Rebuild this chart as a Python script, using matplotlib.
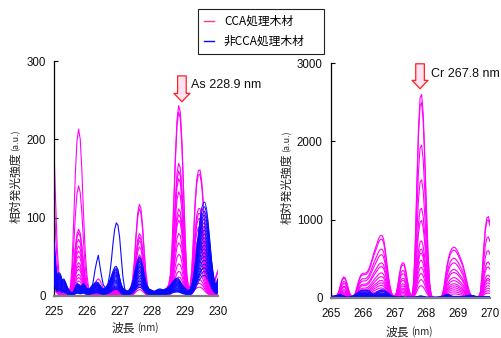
import numpy as np
import matplotlib
matplotlib.use("Agg")
import matplotlib.pyplot as plt
from matplotlib.lines import Line2D

plt.rcParams['font.family'] = ['Noto Sans CJK JP', 'DejaVu Sans']

# ---------------- data ----------------
# left panel: As region, sampled every 0.05 nm from 225.00 to 230.00
left_wl_start, left_wl_end = 225.0, 230.0
# CCA (magenta) component A: 225.0 edge, 225.76 peak, small bumps
left_cca_profile_a = [
    185, 120, 60, 28, 14, 10, 8, 5, 3, 4,
    12, 40, 95, 155, 198, 213, 200, 160, 105, 58,
    28, 12, 6, 8, 12, 16, 20, 22, 20, 15,
    10, 8, 10, 14, 18, 22, 26, 30, 30, 24,
    16, 10, 7, 6, 6, 7, 7, 7, 7, 7,
    7, 7, 7, 7, 7, 7, 7, 6, 6, 5,
    4, 3, 3, 3, 3, 3, 3, 3, 3, 3,
    3, 3, 3, 3, 3, 3, 3, 3, 3, 3,
    3, 3, 3, 3, 3, 3, 3, 3, 3, 3,
    3, 3, 3, 3, 3, 3, 3, 3, 3, 3,
    3]
# CCA (magenta) component B: 227.62, 228.83, 229.45 peaks
left_cca_profile_b = [
    0, 0, 0, 0, 0, 0, 0, 0, 0, 0,
    0, 0, 0, 0, 0, 0, 0, 0, 0, 0,
    0, 0, 0, 0, 0, 0, 0, 0, 0, 0,
    0, 0, 0, 0, 0, 0, 0, 0, 0, 0,
    0, 0, 0, 0, 0, 0, 1, 5, 15, 38,
    71, 98, 110, 105, 83, 51, 23, 8, 1, 0,
    0, 0, 1, 2, 3, 3, 4, 5, 6, 8,
    12, 25, 60, 115, 175, 222, 240, 232, 195, 135,
    70, 25, 8, 10, 30, 70, 115, 145, 157, 158,
    145, 118, 85, 55, 32, 18, 12, 12, 16, 24,
    30]
left_cca_scale_a = [1.00, 0.66, 0.40, 0.38, 0.34, 0.30, 0.27, 0.24,
                    0.20, 0.18, 0.16, 0.13, 0.11, 0.09, 0.07, 0.05]
left_cca_scale_b = [1.00, 0.97, 0.70, 0.66, 0.62, 0.55, 0.46, 0.43,
                    0.40, 0.33, 0.28, 0.22, 0.17, 0.13, 0.10, 0.07]

# non-CCA (blue) general profile
left_non_profile = [
    70, 40, 25, 30, 28, 20, 22, 18, 12, 8,
    5, 4, 6, 12, 16, 15, 12, 14, 16, 13,
    10, 9, 10, 13, 15, 17, 18, 17, 14, 11,
    9, 10, 12, 15, 20, 26, 32, 37, 38, 34,
    24, 15, 10, 8, 7, 6, 8, 12, 18, 28,
    38, 46, 50, 48, 40, 28, 18, 12, 9, 8,
    7, 6, 7, 8, 9, 9, 8, 8, 9, 10,
    12, 14, 17, 20, 22, 23, 22, 19, 15, 12,
    10, 8, 7, 9, 14, 24, 40, 60, 80, 98,
    112, 119, 120, 112, 95, 72, 48, 30, 18, 14,
    22]
left_non_scale = [1.00, 0.95, 0.90, 0.86, 0.82, 0.78, 0.74, 0.70, 0.66, 0.62,
                  0.58, 0.54, 0.50, 0.46, 0.42, 0.38, 0.34, 0.30, 0.26, 0.22]
# one non-CCA sample with extra peaks at 226.35 / 226.95
left_non_extra_bump = [
    0, 0, 0, 0, 0, 0, 0, 0, 0, 0,
    0, 0, 0, 0, 0, 0, 0, 0, 0, 0,
    0, 0, 0, 5, 15, 28, 38, 47, 34, 22,
    12, 8, 8, 12, 22, 38, 58, 74, 82, 80,
    68, 45, 22, 8, 2, 0, 0, 0, 0, 0,
    0, 0, 0, 0, 0, 0, 0, 0, 0, 0,
    0, 0, 0, 0, 0, 0, 0, 0, 0, 0,
    0, 0, 0, 0, 0, 0, 0, 0, 0, 0,
    0, 0, 0, 0, 0, 0, 0, 0, 0, 0,
    0, 0, 0, 0, 0, 0, 0, 0, 0, 0,
    0]
left_non_extra_base = 0.30

# right panel: Cr region, sampled every 0.05 nm from 265.00 to 270.00
right_wl_start, right_wl_end = 265.0, 270.0
right_cca_profile_broad = [
    30, 25, 20, 25, 40, 90, 170, 240, 270, 255,
    190, 110, 50, 22, 20, 45, 110, 190, 260, 300,
    315, 315, 320, 340, 380, 440, 510, 580, 640, 700,
    760, 795, 800, 760, 640, 470, 300, 160, 70, 30,
    25, 60, 160, 300, 410, 450, 440, 360, 230, 110,
    40, 25, 15, 10, 10, 10, 10, 10, 10, 10,
    10, 10, 10, 10, 10, 5, 5, 8, 10, 15,
    40, 130, 280, 420, 520, 590, 630, 650, 645, 620,
    580, 530, 480, 420, 340, 250, 160, 80, 35, 20,
    25, 20, 15, 15, 10, 10, 10, 10, 10, 10,
    10]
right_cca_profile_big = [
    0, 0, 0, 0, 0, 0, 0, 0, 0, 0,
    0, 0, 0, 0, 0, 0, 0, 0, 0, 0,
    0, 0, 0, 0, 0, 0, 0, 0, 0, 0,
    0, 0, 0, 0, 0, 0, 0, 0, 0, 0,
    0, 0, 0, 0, 0, 0, 0, 0, 0, 0,
    0, 5, 190, 690, 1440, 2140, 2540, 2590, 2340, 1790,
    1140, 570, 190, 30, 0, 0, 0, 0, 0, 0,
    0, 0, 0, 0, 0, 0, 0, 0, 0, 0,
    0, 0, 0, 0, 0, 0, 0, 0, 0, 0,
    0, 0, 0, 5, 70, 290, 610, 870, 1010, 1030,
    950]
right_cca_scale_big = [1.00, 0.96, 0.75, 0.58, 0.44, 0.38, 0.28,
                       0.24, 0.22, 0.185, 0.15, 0.12, 0.09, 0.06]
right_cca_scale_broad = [1.00, 0.94, 0.78, 0.69, 0.56, 0.50, 0.40,
                         0.34, 0.28, 0.24, 0.20, 0.16, 0.12, 0.08]
right_non_profile = [
    15, 20, 25, 30, 35, 40, 45, 35, 25, 15,
    10, 10, 15, 20, 30, 40, 55, 70, 85, 95,
    95, 90, 95, 100, 90, 70, 55, 50, 60, 75,
    90, 100, 105, 100, 90, 75, 60, 45, 30, 20,
    15, 12, 10, 12, 15, 15, 12, 10, 10, 10,
    10, 10, 10, 12, 15, 20, 25, 25, 20, 15,
    10, 10, 10, 10, 10, 10, 10, 10, 12, 15,
    20, 30, 40, 45, 40, 30, 25, 20, 20, 20,
    20, 20, 20, 20, 22, 25, 30, 35, 35, 30,
    25, 20, 15, 15, 15, 15, 15, 15, 15, 15,
    15]
right_non_scale = [1.0, 0.8, 0.6, 0.45, 0.35, 0.28, 0.2, 0.15, 0.1, 0.05]

left_xticks = [225, 226, 227, 228, 229, 230]
left_yticks = [0, 100, 200, 300]
right_xticks = [265, 266, 267, 268, 269, 270]
right_yticks = [0, 1000, 2000, 3000]
legend_labels = ['CCA処理木材', '非CCA処理木材']
ylabel_main = '相対発光強度'
ylabel_unit = '(a.u.)'
xlabel_main = '波長'
xlabel_unit = '(nm)'
left_note = 'As 228.9 nm'
right_note = 'Cr 267.8 nm'
left_note_x = 228.9
right_note_x = 267.8

# ---------------- styling ----------------
MAG = '#ff00ff'
BLUE = '#0a0aff'
LEG_MAG = '#ff3399'
W, H = 502, 338
LATIN = ['Liberation Sans', 'DejaVu Sans']
CJK = ['Noto Sans CJK JP', 'DejaVu Sans']

fig = plt.figure(figsize=(W / 100, H / 100), dpi=100)

def px_rect(x0, y0, x1, y1):
    return [x0 / W, 1 - y1 / H, (x1 - x0) / W, (y1 - y0) / H]

axL = fig.add_axes(px_rect(54, 61, 218, 296))
axR = fig.add_axes(px_rect(331, 63, 490, 298))

wlL = np.linspace(left_wl_start, left_wl_end, len(left_cca_profile_a))
wlR = np.linspace(right_wl_start, right_wl_end, len(right_cca_profile_big))

pa = np.array(left_cca_profile_a, float)
pb = np.array(left_cca_profile_b, float)
for sa, sb in zip(left_cca_scale_a, left_cca_scale_b):
    axL.plot(wlL, sa * pa + sb * pb, color=MAG, lw=0.8, zorder=2)
pn = np.array(left_non_profile, float)
for s in left_non_scale:
    axL.plot(wlL, s * pn, color=BLUE, lw=0.65, zorder=3)
axL.plot(wlL, left_non_extra_base * pn + np.array(left_non_extra_bump, float),
         color=BLUE, lw=0.8, zorder=3)

pbig = np.array(right_cca_profile_big, float)
pbr = np.array(right_cca_profile_broad, float)
for sg, sr in zip(right_cca_scale_big, right_cca_scale_broad):
    axR.plot(wlR, sg * pbig + sr * pbr, color=MAG, lw=0.8, zorder=2)
prn = np.array(right_non_profile, float)
for s in right_non_scale:
    axR.plot(wlR, s * prn, color=BLUE, lw=0.9, zorder=3)

for ax, xt, yt, xl, yl in [(axL, left_xticks, left_yticks, (225, 230), (0, 300)),
                           (axR, right_xticks, right_yticks, (265, 270), (0, 3000))]:
    ax.set_xlim(*xl)
    ax.set_ylim(*yl)
    ax.set_xticks(xt)
    ax.set_yticks(yt)
    ax.set_xticklabels([str(v) for v in xt], family=LATIN, fontsize=8.3, color='#111111')
    ax.set_yticklabels([str(v) for v in yt], family=LATIN, fontsize=8.3, color='#111111')
    ax.tick_params(axis='x', length=0, pad=7)
    ax.tick_params(axis='y', direction='in', length=3, width=0.8, pad=6)
    ax.spines['top'].set_visible(False)
    ax.spines['right'].set_visible(False)
    ax.spines['left'].set_linewidth(0.9)
    ax.spines['bottom'].set_color('#808080')
    ax.spines['bottom'].set_linewidth(1.6)
    ax.spines['bottom'].set_zorder(4)
    ax.patch.set_alpha(0)

# axis labels (two sizes)
def ylab(x, ymain, yunit):
    fig.text(x / W, 1 - ymain / H, ylabel_main, rotation=90, ha='center', va='center',
             fontsize=8.5, family=CJK, color='#222222')
    fig.text(x / W, 1 - yunit / H, ylabel_unit, rotation=90, ha='center', va='center',
             fontsize=6.5, family=CJK, color='#222222')

def xlab(xmain, xunit, y):
    fig.text(xmain / W, 1 - y / H, xlabel_main, ha='center', va='center',
             fontsize=8.5, family=CJK, color='#222222')
    fig.text(xunit / W, 1 - y / H, xlabel_unit, ha='center', va='center',
             fontsize=7, family=CJK, color='#222222')

ylab(16, 188, 140)
ylab(287, 189, 141)
xlab(123, 148, 328)
xlab(397, 422, 332)

# annotation arrows
def note(ax, x, ytail, ytip, text, tx, ty):
    ax.annotate('', xy=(x, ytip), xytext=(x, ytail),
                arrowprops=dict(arrowstyle='simple,head_length=0.6,head_width=1.15,tail_width=0.62',
                                fc='#ffe3f1', ec='#ff2020', lw=0.9,
                                shrinkA=0, shrinkB=0, mutation_scale=10),
                annotation_clip=False, zorder=6)
    ax.text(tx, ty, text, family=LATIN, fontsize=9, color='#111111',
            ha='left', va='center', clip_on=False)

note(axL, left_note_x, 281, 248, left_note, 229.17, 269)
note(axR, right_note_x, 2990, 2672, right_note, 268.15, 2860)

# legend
handles = [Line2D([], [], color=LEG_MAG, lw=1.0), Line2D([], [], color=BLUE, lw=1.0)]
leg = fig.legend(handles, legend_labels, loc='upper left', mode='expand',
                 bbox_to_anchor=(198 / W, 1 - 52 / H, 126 / W, 43 / H),
                 frameon=True, fancybox=False,
                 edgecolor='#222222', framealpha=1, prop={'family': CJK, 'size': 8.5},
                 handlelength=0.85, handletextpad=0.85, borderpad=0.5, labelspacing=0.6,
                 borderaxespad=0)
leg.get_frame().set_linewidth(0.8)

fig.savefig('out.png', dpi=100)
